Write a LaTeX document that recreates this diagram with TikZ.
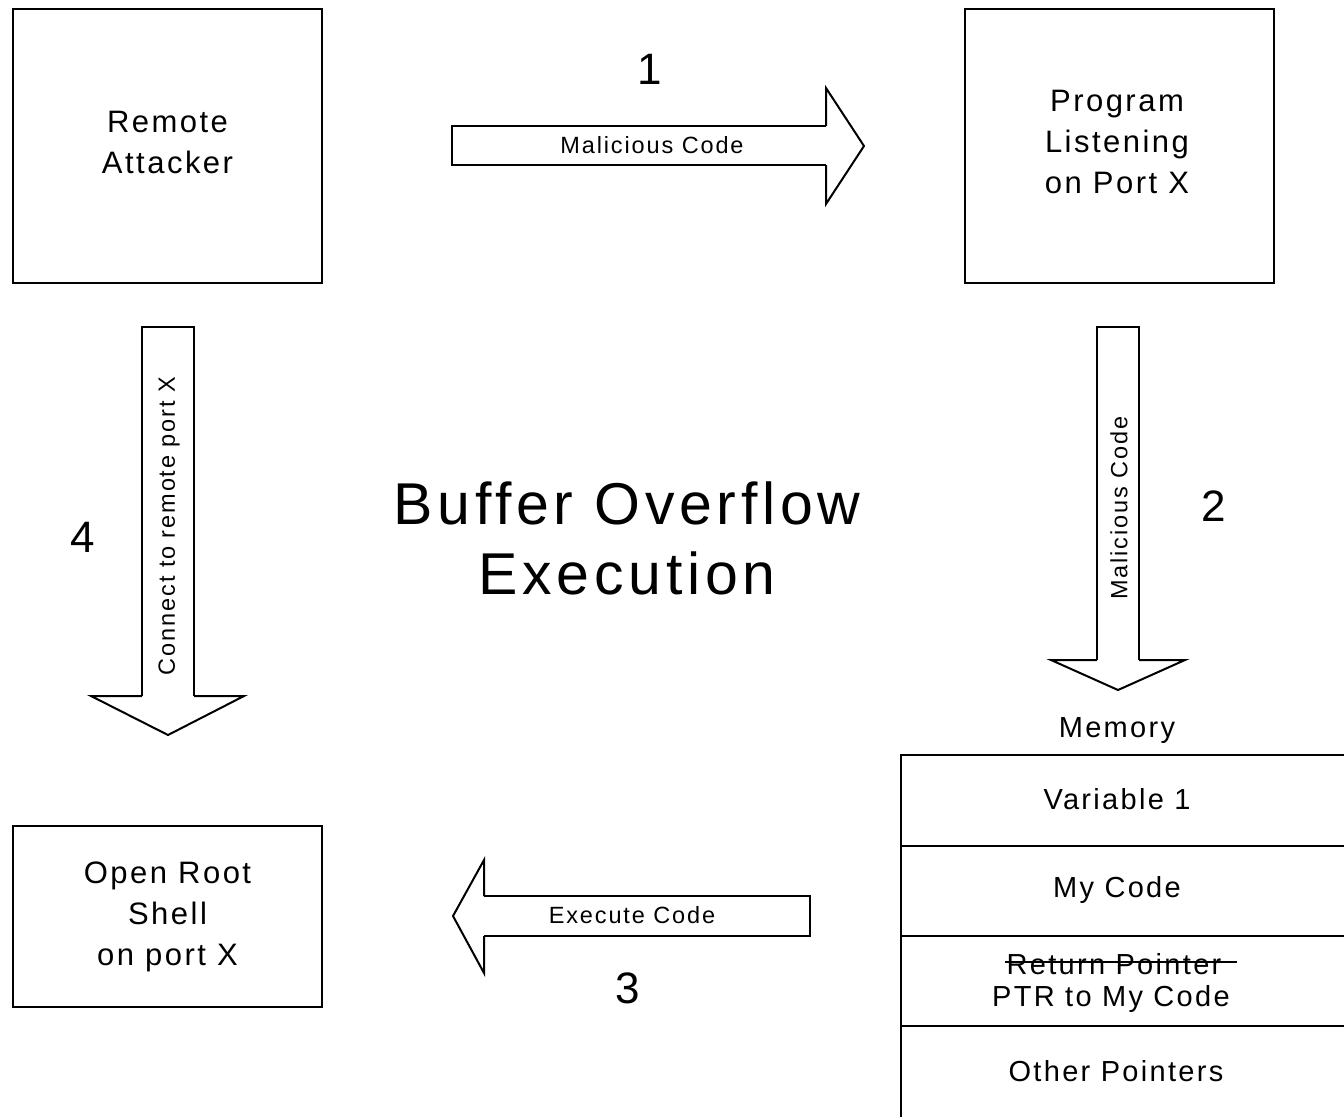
\documentclass[tikz,border=0pt]{standalone}
\usepackage{fontspec}
\setmainfont{Liberation Sans}[LetterSpace=8]
\begin{document}
\begin{tikzpicture}[x=1pt, y=-1pt, line width=2.5pt,
  box/.style={draw, minimum width=309pt, align=center, font=\fontsize{31}{41}\selectfont},
  lbl/.style={font=\fontsize{23.5}{28}\selectfont, inner sep=0pt},
  num/.style={font=\fontsize{44}{50}\selectfont, inner sep=0pt},
  cell/.style={font=\fontsize{29}{36}\selectfont, inner sep=0pt, align=center},
  head/.style={line width=2pt}]

  \useasboundingbox (0,0) rectangle (1344,1117);

  %% ---- boxes ----
  \node[box, minimum height=274pt] (attacker) at (167.5,146) {};
  \node[align=center, font=\fontsize{31}{41}\selectfont] (attackertxt) at (167.5,142) {Remote\\Attacker};
  \node[box, minimum height=274pt] (program) at (1119.5,146) {};
  \node[align=center, font=\fontsize{31}{41}\selectfont] (programtxt) at (1117,142) {Program\\Listening\\on Port X};
  \node[box, minimum height=181pt] (shell) at (167.5,916.5) {Open Root\\Shell\\on port X};

  %% ---- title ----
  \node[font=\fontsize{59}{70}\selectfont, align=center] (title) at (627,538) {Buffer Overflow\\Execution};

  %% ---- arrow 1 (right) ----
  \draw (826,126) -- (452,126) -- (452,165) -- (826,165);
  \draw[head] (826,126) -- (826,88) -- (864,146) -- (826,204) -- (826,165);
  \node[lbl] (mal1) at (652,145) {Malicious Code};
  \node[num] (n1) at (650,69) {1};

  %% ---- arrow 2 (down) ----
  \draw (1097,660) -- (1097,327) -- (1139,327) -- (1139,660);
  \draw[head] (1097,660) -- (1051,660) -- (1118,690) -- (1185,660) -- (1139,660);
  \node[lbl, rotate=90] (mal2) at (1119,508) {Malicious Code};
  \node[num] (n2) at (1214,506) {2};

  %% ---- arrow 3 (left) ----
  \draw (484,896) -- (810,896) -- (810,936) -- (484,936);
  \draw[head] (484,896) -- (484,860) -- (453,916) -- (484,973) -- (484,936);
  \node[lbl] (exec) at (632,915) {Execute Code};
  \node[num] (n3) at (628,988) {3};

  %% ---- arrow 4 (down) ----
  \draw (142,696) -- (142,327) -- (194,327) -- (194,696);
  \draw[head] (142,696) -- (91,696) -- (168,735) -- (244,696) -- (194,696);
  \node[lbl, rotate=90] (conn) at (169,526) {Connect to remote port X};
  \node[num] (n4) at (83,537) {4};

  %% ---- memory ----
  \node[cell] (memory) at (1117,731) {Memory};
  \draw (1344,755) -- (901,755) -- (901,1117);
  \draw (901,846) -- (1344,846);
  \draw (901,936) -- (1344,936);
  \draw (901,1026) -- (1344,1026);
  \node[cell] (var) at (1117,799) {Variable 1};
  \node[cell] (mycode) at (1117,890) {My Code};
  \node[cell] (ret) at (1114,964) {Return Pointer};
  \draw[line width=1.5pt] ([yshift=2pt]ret.west) -- ([xshift=14pt,yshift=2pt]ret.east);
  \node[cell] (ptr) at (1111,999) {PTR to My Code};
  \node[cell] (other) at (1116,1071) {Other Pointers};

\end{tikzpicture}
\end{document}
